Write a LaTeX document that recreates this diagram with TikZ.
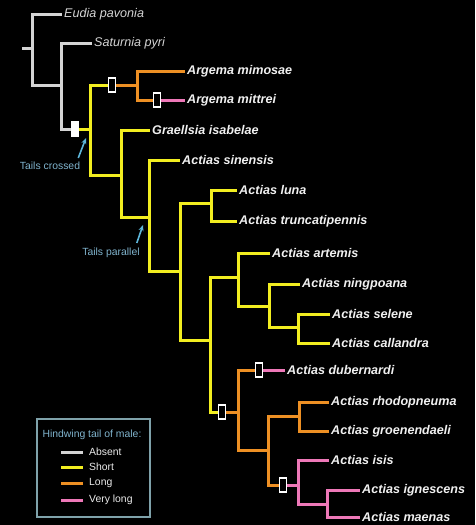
\documentclass[tikz,border=0pt]{standalone}
\usepackage{fontspec}
\setmainfont{Liberation Sans}
\usetikzlibrary{arrows.meta}
\definecolor{cAbsent}{HTML}{D4D4D4}
\definecolor{cShort}{HTML}{F2EE20}
\definecolor{cLong}{HTML}{EE9024}
\definecolor{cVlong}{HTML}{EE78B8}
\definecolor{cHint}{HTML}{5DB6DA}
\definecolor{cHintText}{HTML}{80B4CE}
\definecolor{cFrame}{HTML}{7FA2AA}
\begin{document}
\begin{tikzpicture}[x=1pt,y=-1pt,
    br/.style={line width=3pt},
    absentbr/.style={br,draw=cAbsent},
    shortbr/.style={br,draw=cShort},
    longbr/.style={br,draw=cLong},
    vlongbr/.style={br,draw=cVlong},
    taxon/.style={anchor=west,inner sep=2pt,text=white!94!black,
      font=\fontsize{12.6}{14}\selectfont\bfseries\itshape},
    outgroup/.style={taxon,text=cAbsent,font=\fontsize{12.6}{14}\selectfont\itshape},
    gain/.style={draw=white,fill=black,line width=1.3pt,minimum width=6.5pt,
      minimum height=14pt,inner sep=0pt},
    hint/.style={text=cHintText,inner sep=2pt,font=\fontsize{10.4}{12}\selectfont},
    hintarrow/.style={draw=cHint,line width=1.6pt,-{Stealth[length=6pt,width=5pt]}},
    key/.style={anchor=west,inner sep=0pt,text=white!92!black,font=\fontsize{10.4}{12}\selectfont}]
  \fill [black] (0,0) rectangle (475,525);
  \useasboundingbox (0,0) rectangle (475,525);

  % junctions
  \coordinate (stub) at (22,48);
  \coordinate (root) at (32,48);
  \coordinate (n1) at (61,85);
  \coordinate (n2) at (90,129);
  \coordinate (nArg) at (137,85);
  \coordinate (n3) at (121,175);
  \coordinate (n4) at (149,217);
  \coordinate (n5) at (180,271);
  \coordinate (n6) at (211,203);
  \coordinate (n7) at (210,340);
  \coordinate (n8) at (238,277);
  \coordinate (n9) at (269,306);
  \coordinate (n10) at (298,327);
  \coordinate (n11) at (238,412);
  \coordinate (n12) at (268,450);
  \coordinate (n13) at (299,416);
  \coordinate (n14) at (298,485);
  \coordinate (n15) at (327,504);

  % taxa
  \node [outgroup] (eudia) at (62,14) {Eudia pavonia};
  \node [outgroup] (saturnia) at (92,43) {Saturnia pyri};
  \node [taxon] (mimosae) at (185,71) {Argema mimosae};
  \node [taxon] (mittrei) at (185,100) {Argema mittrei};
  \node [taxon] (graellsia) at (150,130) {Graellsia isabelae};
  \node [taxon] (sinensis) at (180,160) {Actias sinensis};
  \node [taxon] (luna) at (237,190) {Actias luna};
  \node [taxon] (truncati) at (237,221) {Actias truncatipennis};
  \node [taxon] (artemis) at (270,253) {Actias artemis};
  \node [taxon] (ningpoana) at (300,284) {Actias ningpoana};
  \node [taxon] (selene) at (330,314) {Actias selene};
  \node [taxon] (callandra) at (330,343) {Actias callandra};
  \node [taxon] (dubernardi) at (285,370) {Actias dubernardi};
  \node [taxon] (rhodop) at (329,402) {Actias rhodopneuma};
  \node [taxon] (groen) at (329,431) {Actias groenendaeli};
  \node [taxon] (isis) at (329,460) {Actias isis};
  \node [taxon] (ignescens) at (360,490) {Actias ignescens};
  \node [taxon] (maenas) at (360,517) {Actias maenas};

  % changes of tail length
  \node [gain, fill=white] (bx1) at (75,129) {};
  \node [gain] (bx2) at (112,85) {};
  \node [gain] (bx3) at (157,100) {};
  \node [gain] (bx4) at (222,412) {};
  \node [gain] (bx5) at (259,370) {};
  \node [gain] (bx6) at (283,485) {};

  % branches
  \draw [absentbr] (stub) -- (root);
  \draw [absentbr] (root) |- (eudia.west);
  \draw [absentbr] (root) |- (n1);
  \draw [absentbr] (n1) |- (saturnia.west);
  \draw [absentbr] (n1) |- (bx1);
  \draw [shortbr] (bx1) -- (n2);
  \draw [shortbr] (n2) |- (bx2);
  \draw [longbr] (bx2) -- (nArg);
  \draw [longbr] (nArg) |- (mimosae.west);
  \draw [longbr] (nArg) |- (bx3);
  \draw [vlongbr] (bx3) -- (mittrei.west);
  \draw [shortbr] (n2) |- (n3);
  \draw [shortbr] (n3) |- (graellsia.west);
  \draw [shortbr] (n3) |- (n4);
  \draw [shortbr] (n4) |- (sinensis.west);
  \draw [shortbr] (n4) |- (n5);
  \draw [shortbr] (n5) |- (n6);
  \draw [shortbr] (n6) |- (luna.west);
  \draw [shortbr] (n6) |- (truncati.west);
  \draw [shortbr] (n5) |- (n7);
  \draw [shortbr] (n7) |- (n8);
  \draw [shortbr] (n8) |- (artemis.west);
  \draw [shortbr] (n8) |- (n9);
  \draw [shortbr] (n9) |- (ningpoana.west);
  \draw [shortbr] (n9) |- (n10);
  \draw [shortbr] (n10) |- (selene.west);
  \draw [shortbr] (n10) |- (callandra.west);
  \draw [shortbr] (n7) |- (bx4);
  \draw [longbr] (bx4) -- (n11);
  \draw [longbr] (n11) |- (bx5);
  \draw [vlongbr] (bx5) -- (dubernardi.west);
  \draw [longbr] (n11) |- (n12);
  \draw [longbr] (n12) |- (n13);
  \draw [longbr] (n13) |- (rhodop.west);
  \draw [longbr] (n13) |- (groen.west);
  \draw [longbr] (n12) |- (bx6);
  \draw [vlongbr] (bx6) -- (n14);
  \draw [vlongbr] (n14) |- (isis.west);
  \draw [vlongbr] (n14) |- (n15);
  \draw [vlongbr] (n15) |- (ignescens.west);
  \draw [vlongbr] (n15) |- (maenas.west);

  % notes
  \node [hint] (crossed) at (50,166) {Tails crossed};
  \coordinate (crossedtip) at (86,138);
  \draw [hintarrow] ([shift={(-4,-2)}]crossed.north east) -- (crossedtip);
  \node [hint] (parallel) at (111,253) {Tails parallel};
  \coordinate (paralleltip) at (143,225);
  \draw [hintarrow] ([shift={(-5,-3)}]parallel.north east) -- (paralleltip);

  % legend
  \draw [cFrame, line width=1.2pt] (37,419) rectangle (150,517);
  \node [hint] (legtitle) at (92,435) {Hindwing tail of male:};
  \draw [absentbr] (61,452) -- (83,452);
  \node [key] (kAbsent) at (89,452) {Absent};
  \draw [shortbr] (61,467) -- (83,467);
  \node [key] (kShort) at (89,467) {Short};
  \draw [longbr] (61,483) -- (83,483);
  \node [key] (kLong) at (89,483) {Long};
  \draw [vlongbr] (61,500) -- (83,500);
  \node [key] (kVlong) at (89,500) {Very long};
\end{tikzpicture}
\end{document}
